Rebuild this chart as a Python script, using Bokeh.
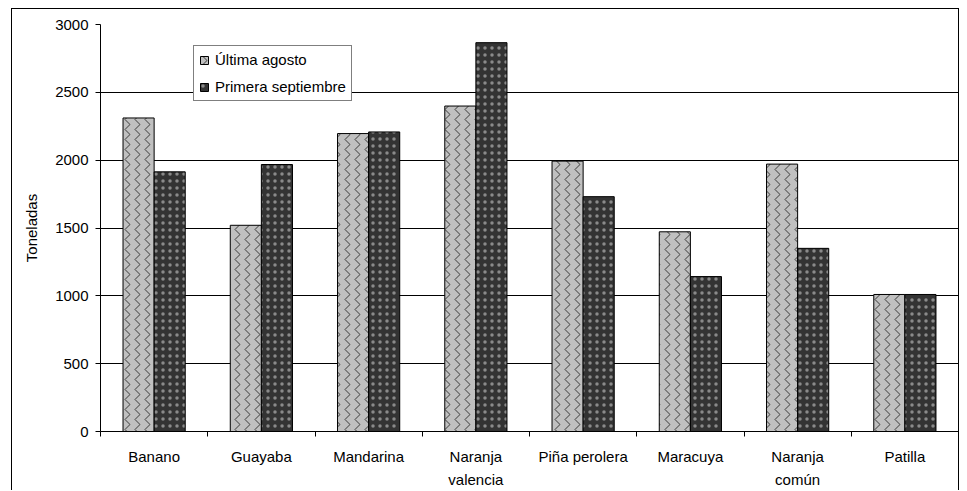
from bokeh.plotting import figure
from bokeh.models import Range1d, FixedTicker, Legend, LegendItem, ColumnDataSource
from bokeh.transform import dodge
from bokeh.embed import file_html
from bokeh.resources import INLINE

categories = ["Banano", "Guayaba", "Mandarina", "Naranja\nvalencia", "Piña perolera",
              "Maracuya", "Naranja\ncomún", "Patilla"]
ultima_agosto = [2311, 1520, 2196, 2399, 1993, 1472, 1971, 1010]
primera_septiembre = [1914, 1968, 2208, 2866, 1731, 1142, 1350, 1010]
y_ticks = [0, 500, 1000, 1500, 2000, 2500, 3000]
series_names = ["Última agosto", "Primera septiembre"]

FONT = "Liberation Sans"

centers = [i + 0.5 for i in range(len(categories))]
source = ColumnDataSource(dict(x=centers, a=ultima_agosto, b=primera_septiembre))

p = figure(width=948, height=482, output_backend="svg", toolbar_location=None,
           x_range=Range1d(0, len(categories)), y_range=Range1d(0, 3000),
           min_border_left=88, min_border_right=2, min_border_top=15, min_border_bottom=59)
p.styles = {"margin-left": "11px", "margin-top": "8px",
            "border-left": "1px solid black", "border-top": "1px solid black",
            "border-right": "1px solid black"}
p.background_fill_color = "white"
p.border_fill_color = "white"
p.outline_line_color = None

bw = 0.29
r1 = p.vbar(x=dodge("x", -bw / 2, range=p.x_range), top="a", width=bw, source=source,
            fill_color="#c0c0c0", line_color="black", line_width=1,
            hatch_pattern="vertical_wave", hatch_color="#3a3a3a", hatch_scale=10, hatch_weight=1)
r2 = p.vbar(x=dodge("x", bw / 2, range=p.x_range), top="b", width=bw, source=source,
            fill_color="#333333", line_color="black", line_width=1,
            hatch_pattern="dot", hatch_color="#8a8a8a", hatch_scale=7, hatch_weight=1)

# axes
p.xaxis.ticker = FixedTicker(ticks=centers, minor_ticks=list(range(len(categories) + 1)))
p.xaxis.major_label_overrides = {c: lab for c, lab in zip(centers, categories)}
p.xaxis.major_tick_out = 0
p.xaxis.major_tick_in = 0
p.xaxis.minor_tick_out = 5
p.xaxis.minor_tick_in = 0
p.xaxis.minor_tick_line_color = "black"
p.xaxis.major_label_standoff = 11
p.xaxis.major_label_text_font = FONT
p.xaxis.major_label_text_font_size = "15px"
p.xaxis.major_label_text_color = "black"
p.xaxis.major_label_text_line_height = 1.4
p.xaxis.axis_line_color = "black"

p.yaxis.ticker = FixedTicker(ticks=y_ticks)
p.yaxis.minor_tick_line_color = None
p.yaxis.major_tick_out = 5
p.yaxis.major_tick_in = 0
p.yaxis.major_tick_line_color = "black"
p.yaxis.major_label_standoff = 7
p.yaxis.major_label_text_font = FONT
p.yaxis.major_label_text_font_size = "15px"
p.yaxis.major_label_text_color = "black"
p.yaxis.axis_line_color = "black"
p.yaxis.axis_label = "Toneladas"
p.yaxis.axis_label_text_font = FONT
p.yaxis.axis_label_text_font_size = "15px"
p.yaxis.axis_label_text_font_style = "normal"
p.yaxis.axis_label_text_color = "black"
p.yaxis.axis_label_standoff = 12

p.xgrid.grid_line_color = None
p.ygrid.grid_line_color = "black"
p.ygrid.grid_line_width = 1

legend = Legend(items=[LegendItem(label=series_names[0], renderers=[r1]),
                       LegendItem(label=series_names[1], renderers=[r2])],
                location=(93, 330))
legend.border_line_color = "black"
legend.border_line_width = 1
legend.background_fill_color = "white"
legend.background_fill_alpha = 1
legend.label_text_font = FONT
legend.label_text_font_size = "15px"
legend.label_text_color = "black"
legend.glyph_width = 10
legend.glyph_height = 10
legend.label_standoff = 6
legend.padding = 5
legend.spacing = 10
legend.margin = 0
p.add_layout(legend, "center")

open("out.html", "w").write(file_html(p, INLINE))
